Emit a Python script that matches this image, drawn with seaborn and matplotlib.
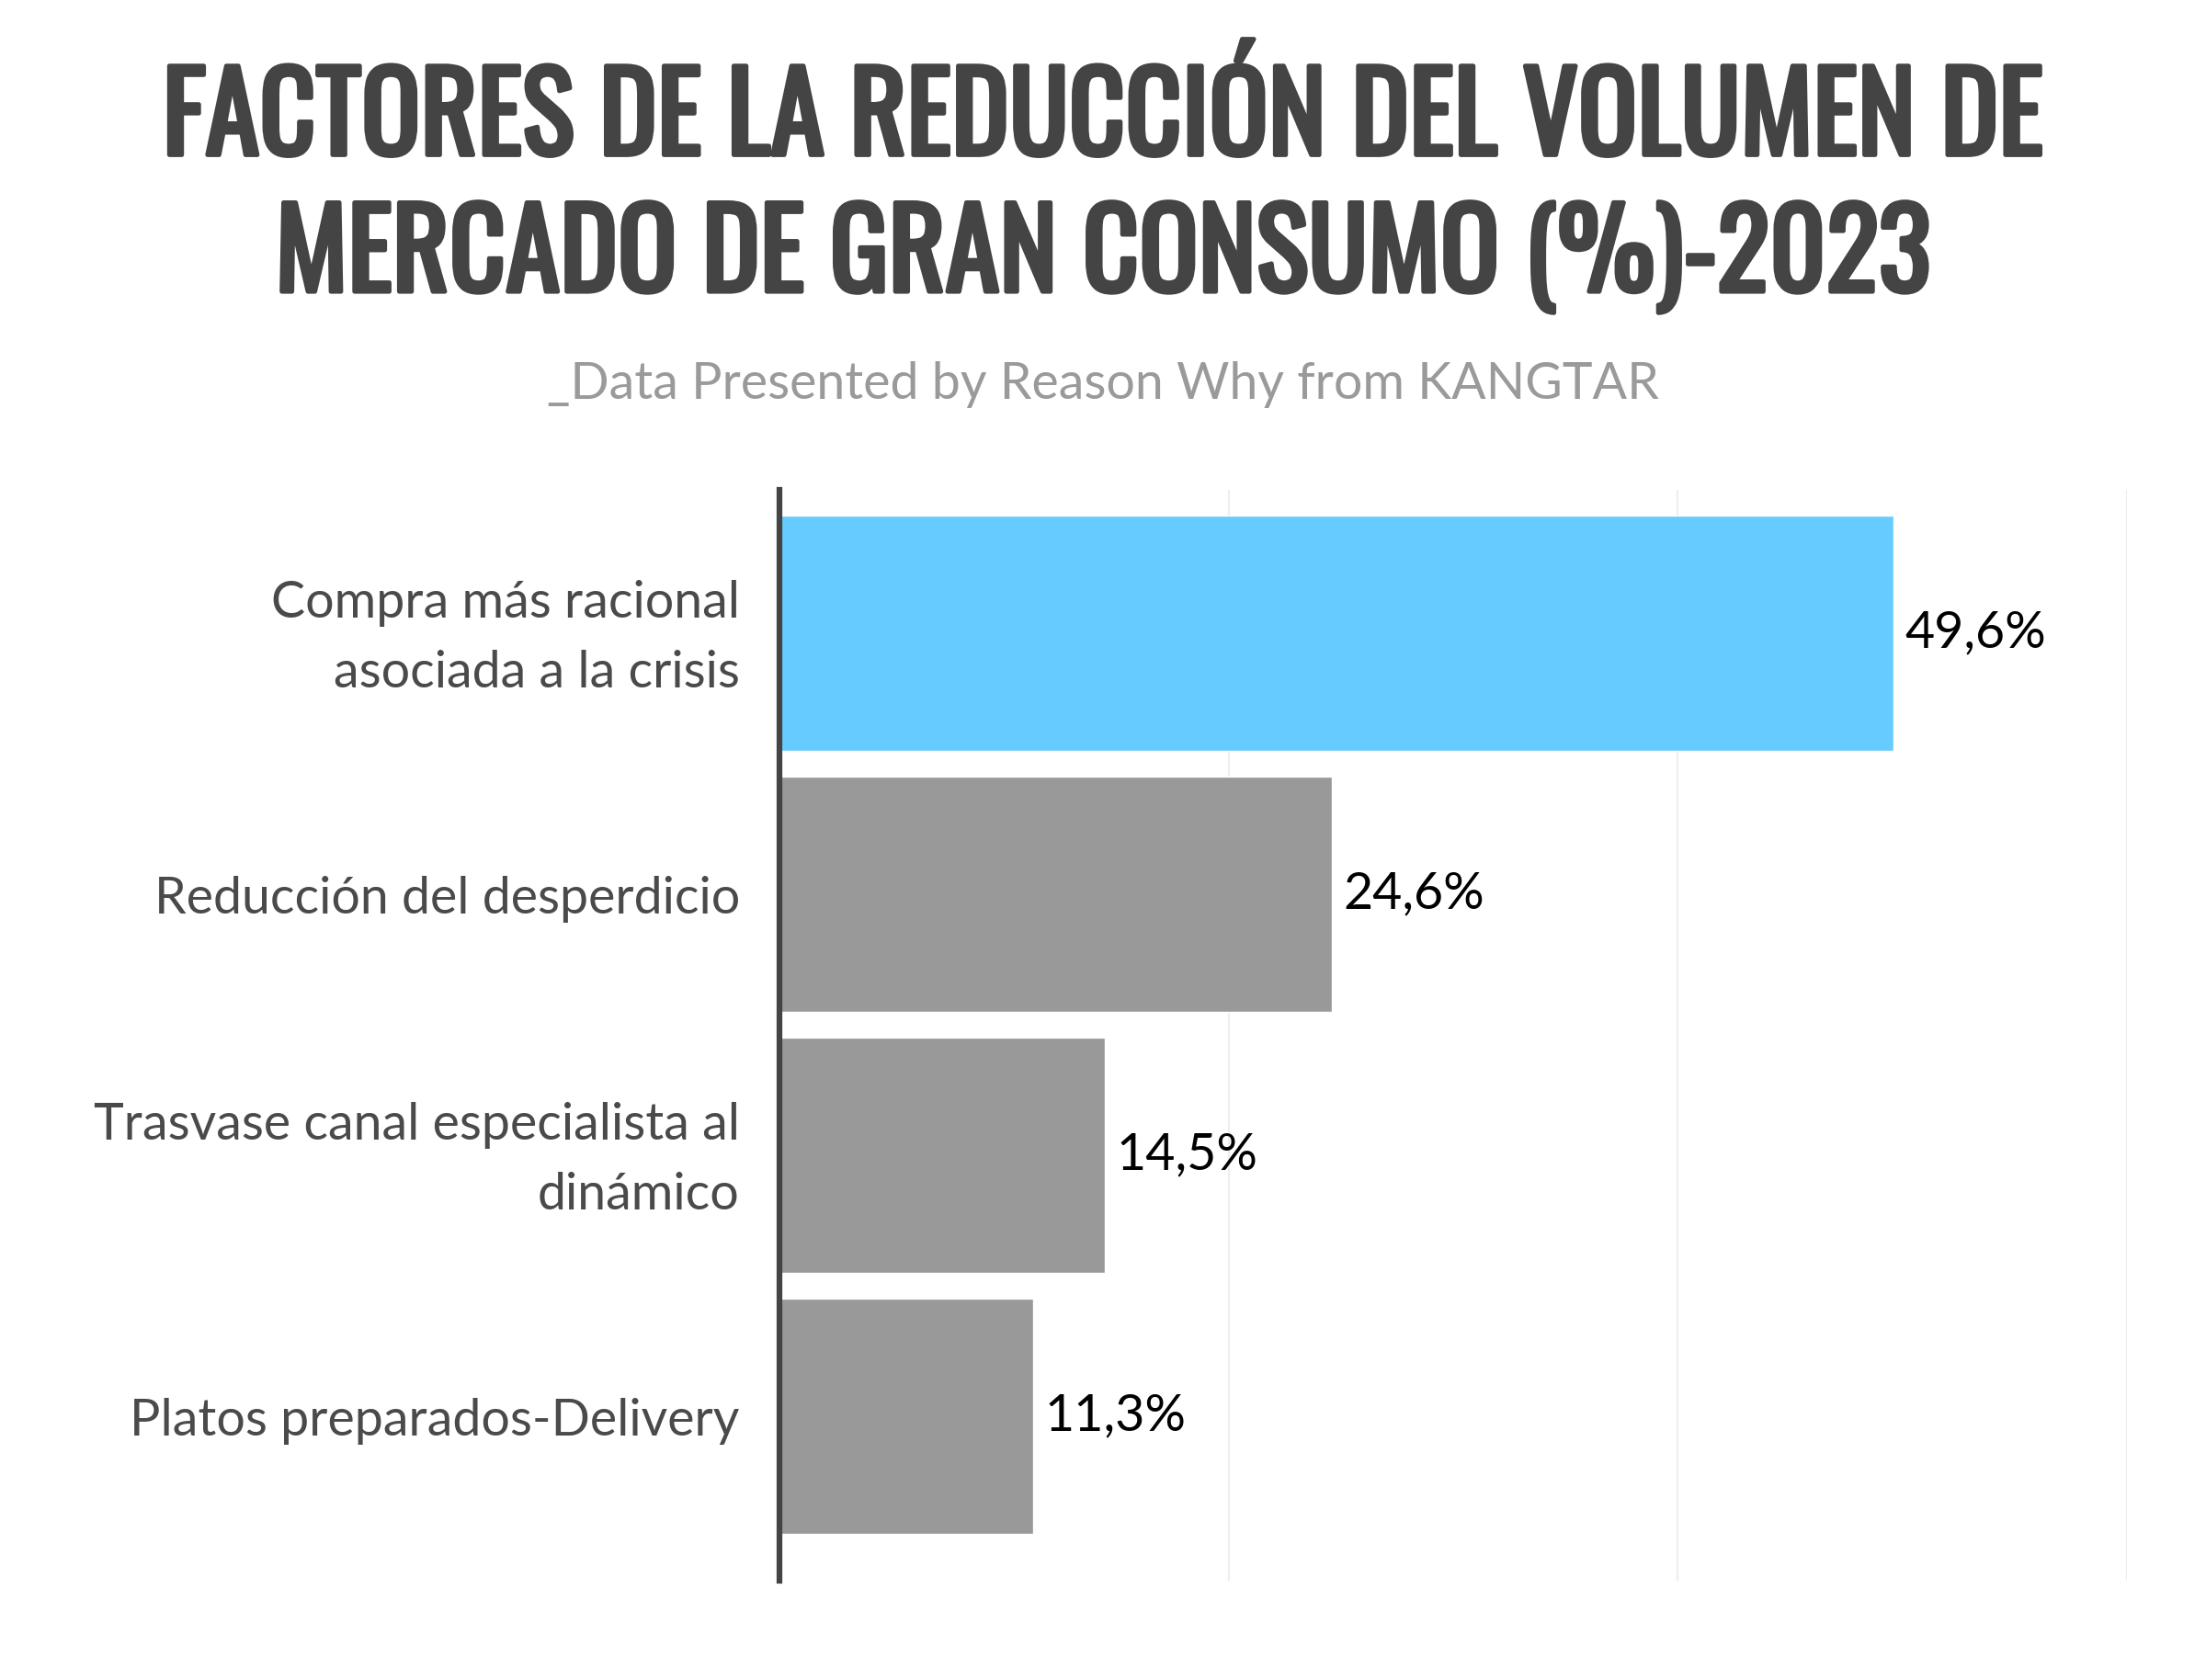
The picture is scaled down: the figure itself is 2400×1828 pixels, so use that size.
import matplotlib
matplotlib.use("Agg")
import matplotlib.pyplot as plt
import matplotlib.patheffects as pe
import matplotlib.transforms as mtransforms
import seaborn as sns
import pandas as pd

factores = [
    "Compra más racional\nasociada a la crisis",
    "Reducción del desperdicio",
    "Trasvase canal especialista al\ndinámico",
    "Platos preparados-Delivery",
]
porcentajes = [49.6, 24.6, 14.5, 11.3]
colores = ["#66CCFF", "#999999", "#999999", "#999999"]

sns.set_theme(style="white")
plt.rcParams["font.family"] = ["Lato", "DejaVu Sans"]

df = pd.DataFrame({"factor": factores, "pct": porcentajes})

fig = plt.figure(figsize=(24, 18.28), dpi=100)
ax = fig.add_axes([0.3533, 0.0591, 0.6109, 0.6493])

sns.barplot(data=df, x="pct", y="factor", hue="factor", palette=colores,
            width=0.9, saturation=1, legend=False, ax=ax, orient="h")

ax.set_xlim(0, 60)
ax.set_ylim(3.63, -0.55)
ax.set_xticks([0, 20, 40, 60])
ax.xaxis.grid(True, color="#eeeeee", linewidth=1.6)
ax.set_axisbelow(True)
ax.tick_params(axis="x", length=0, labelbottom=False)
ax.tick_params(axis="y", length=0, pad=31, labelsize=40, labelcolor="#4a4a4a")
subir = mtransforms.ScaledTranslation(0, 0.12, fig.dpi_scale_trans)
for lbl in ax.get_yticklabels():
    lbl.set_linespacing(1.6)
    if "\n" in lbl.get_text():
        lbl.set_transform(lbl.get_transform() + subir)
ax.set_xlabel("")
ax.set_ylabel("")
for s in ["top", "right", "bottom"]:
    ax.spines[s].set_visible(False)
ax.spines["left"].set_color("#444444")
ax.spines["left"].set_linewidth(4.5)

for i, v in enumerate(porcentajes):
    ax.text(v + 0.5, i, f"{v:.1f}%".replace(".", ","), va="center", ha="left",
            fontsize=40, color="#000000")

titulo_fx = [pe.withStroke(linewidth=3.5, foreground="#444444")]
fig.text(0.5, 0.930, "FACTORES DE LA REDUCCIÓN DEL VOLUMEN DE",
         ha="center", va="center", fontsize=86, color="#444444",
         family=["Oswald", "Liberation Sans Narrow", "DejaVu Sans"],
         path_effects=titulo_fx)
fig.text(0.5, 0.847, "MERCADO DE GRAN CONSUMO (%)-2023",
         ha="center", va="center", fontsize=86, color="#444444",
         family=["Oswald", "Liberation Sans Narrow", "DejaVu Sans"],
         path_effects=titulo_fx)
fig.text(0.5, 0.771, "_Data Presented by Reason Why from KANGTAR",
         ha="center", va="center", fontsize=40, color="#9a9a9a")

fig.savefig("out.png", dpi=100, facecolor="white")
